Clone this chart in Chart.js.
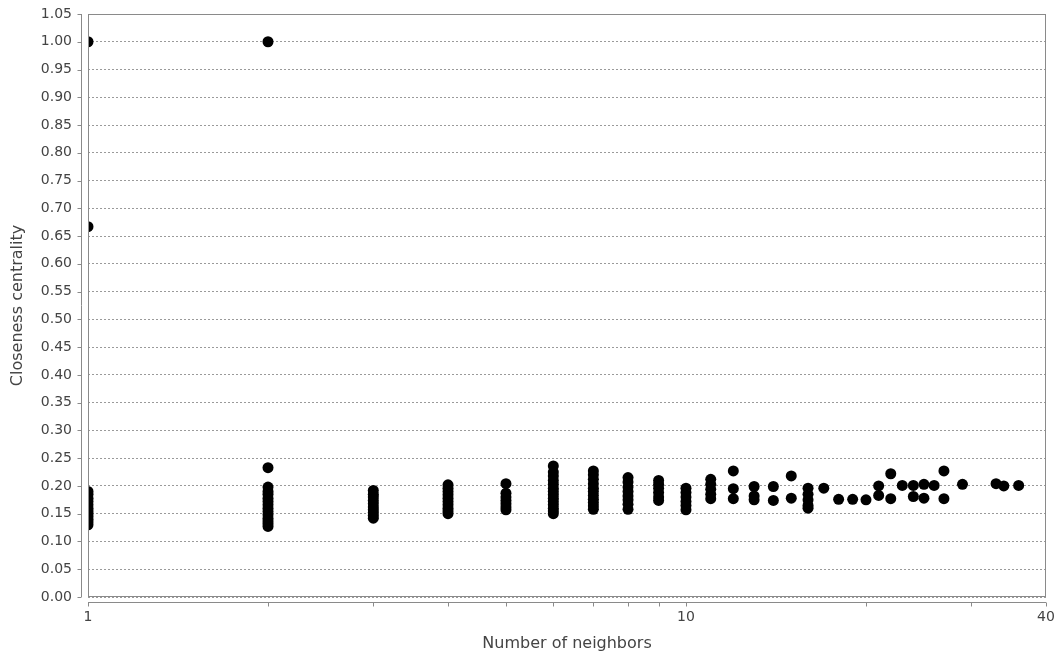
<!DOCTYPE html>
<html>
<head>
<meta charset="utf-8">
<script src="https://cdn.jsdelivr.net/npm/chart.js@4.4.0/dist/chart.umd.min.js"></script>
<style>
  html, body { margin: 0; padding: 0; background: #fff; }
  #wrap { width: 1060px; height: 661px; }
</style>
</head>
<body>
<div id="wrap"><canvas id="scatterChart"></canvas></div>
<script>
// number of neighbors for each column of points
const neighborGroups = [1, 2, 3, 4, 5, 6, 7, 8, 9, 10, 11, 12, 13, 14, 15, 16, 17, 18, 19, 20,
  21, 22, 23, 24, 25, 26, 27, 29, 33, 34, 36];
// closeness centrality values read for each column
const closenessGroups = [
  [1.0, 0.667, 0.19, 0.185, 0.178, 0.172, 0.166, 0.16, 0.155, 0.15, 0.145, 0.14, 0.135, 0.13],
  [1.0, 0.233, 0.198, 0.19, 0.185, 0.178, 0.172, 0.166, 0.16, 0.154, 0.148, 0.142, 0.137, 0.132, 0.127],
  [0.192, 0.185, 0.18, 0.174, 0.168, 0.162, 0.157, 0.152, 0.147, 0.142],
  [0.202, 0.196, 0.19, 0.184, 0.178, 0.172, 0.166, 0.16, 0.155, 0.15],
  [0.204, 0.187, 0.18, 0.174, 0.168, 0.162, 0.157],
  [0.236, 0.225, 0.218, 0.21, 0.203, 0.196, 0.19, 0.184, 0.178, 0.172, 0.166, 0.16, 0.155, 0.15],
  [0.227, 0.22, 0.212, 0.204, 0.196, 0.19, 0.183, 0.176, 0.17, 0.164, 0.158],
  [0.215, 0.207, 0.198, 0.19, 0.182, 0.175, 0.167, 0.158],
  [0.21, 0.203, 0.196, 0.188, 0.18, 0.174],
  [0.196, 0.188, 0.18, 0.172, 0.165, 0.157],
  [0.212, 0.203, 0.194, 0.185, 0.177],
  [0.227, 0.195, 0.177],
  [0.199, 0.182, 0.175],
  [0.199, 0.174],
  [0.218, 0.178],
  [0.196, 0.185, 0.175, 0.165, 0.16],
  [0.196],
  [0.176],
  [0.176],
  [0.175],
  [0.2, 0.183],
  [0.222, 0.177],
  [0.201],
  [0.201, 0.181],
  [0.203, 0.178],
  [0.201],
  [0.227, 0.177],
  [0.203],
  [0.204],
  [0.2],
  [0.201]
];
const xTickValues = [1, 2, 3, 4, 5, 6, 7, 8, 9, 10, 20, 30, 40];
const xTickLabels = [1, 10, 40];

const points = [];
neighborGroups.forEach((n, i) => {
  closenessGroups[i].forEach(v => points.push({ x: n, y: v }));
});

const textColor = '#444444';
const fontFamily = "'DejaVu Sans', sans-serif";

// plot frame plus the detached axis lines with tick marks
const frameAxes = {
  id: 'frameAxes',
  afterDraw(chart) {
    const { ctx, chartArea: a, scales: { x, y } } = chart;
    ctx.save();
    ctx.strokeStyle = '#8a8a8a';
    ctx.lineWidth = 1;
    ctx.strokeRect(a.left + 0.5, a.top + 0.5, a.right - a.left - 1, a.bottom - a.top - 1);
    ctx.beginPath();
    const yx = a.left - 6.5;
    ctx.moveTo(yx, a.top);
    ctx.lineTo(yx, a.bottom);
    y.ticks.forEach(t => {
      const py = Math.round(y.getPixelForValue(t.value)) + 0.5;
      ctx.moveTo(yx - 4, py);
      ctx.lineTo(yx, py);
    });
    const xy = a.bottom + 5.5;
    ctx.moveTo(a.left, xy);
    ctx.lineTo(a.right, xy);
    x.ticks.forEach(t => {
      const px = Math.round(x.getPixelForValue(t.value)) + 0.5;
      ctx.moveTo(px, xy);
      ctx.lineTo(px, xy + 4);
    });
    ctx.stroke();
    ctx.restore();
  }
};

new Chart(document.getElementById('scatterChart'), {
  type: 'scatter',
  data: {
    datasets: [{
      data: points,
      backgroundColor: '#000000',
      borderWidth: 0,
      pointRadius: 5.5,
      pointHoverRadius: 5.5,
      clip: 0
    }]
  },
  options: {
    responsive: true,
    maintainAspectRatio: false,
    animation: false,
    events: [],
    layout: { padding: { top: 14, right: 14, left: 0, bottom: 0 } },
    plugins: { legend: { display: false }, tooltip: { enabled: false } },
    scales: {
      x: {
        type: 'logarithmic',
        min: 1,
        max: 40,
        afterBuildTicks(scale) {
          scale.ticks = xTickValues.map(v => ({ value: v }));
        },
        afterFit(scale) {
          scale.height = 64;
          scale.paddingLeft = 0;
          scale.paddingRight = 0;
        },
        grid: { display: false, drawTicks: false },
        border: { display: false },
        ticks: {
          autoSkip: false,
          maxRotation: 0,
          padding: 12,
          color: textColor,
          font: { family: fontFamily, size: 14 },
          callback: v => xTickLabels.includes(v) ? String(v) : ''
        },
        title: {
          display: true,
          text: 'Number of neighbors',
          color: textColor,
          font: { family: fontFamily, size: 16 },
          padding: { top: 0, bottom: 8 }
        }
      },
      y: {
        min: 0,
        max: 1.05,
        afterFit(scale) {
          scale.width = 88;
          scale.paddingTop = 0;
          scale.paddingBottom = 0;
        },
        grid: { color: '#9a9a9a', drawTicks: false },
        border: { display: false, dash: [2, 2] },
        ticks: {
          stepSize: 0.05,
          padding: 16,
          color: textColor,
          font: { family: fontFamily, size: 14 },
          callback: v => Number(v).toFixed(2)
        },
        title: {
          display: true,
          text: 'Closeness centrality',
          color: textColor,
          font: { family: fontFamily, size: 16 },
          padding: { top: 8, bottom: 0 }
        }
      }
    }
  },
  plugins: [frameAxes]
});
</script>
</body>
</html>
